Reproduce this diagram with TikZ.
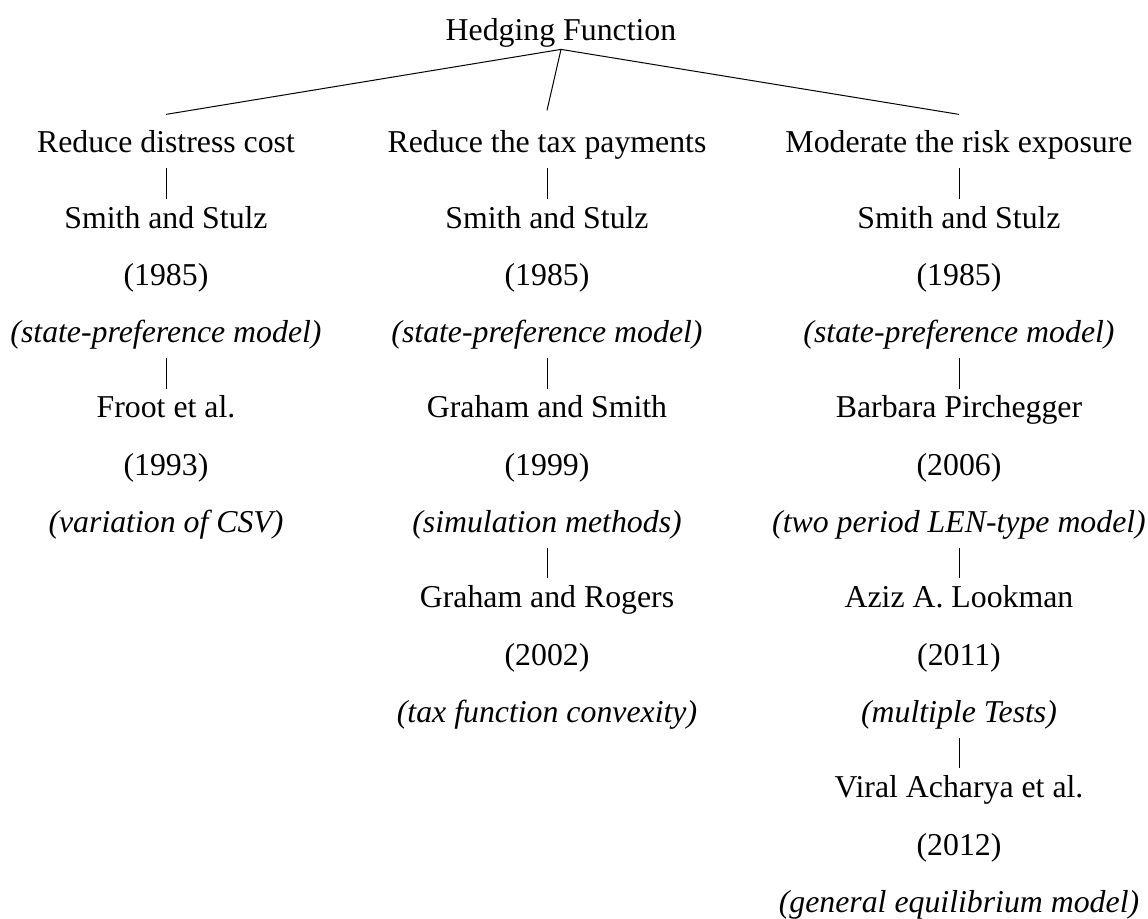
\documentclass[tikz,border=0pt]{standalone}
\usepackage{fontspec}
\setmainfont{Liberation Serif}
\usetikzlibrary{positioning}
\begin{document}
\begin{tikzpicture}

  % Definitions
  \tikzstyle{entry} = [inner sep=0pt, text height=12pt, text depth=4pt, text centered, font=\fontsize{15.9}{19}\selectfont]
  \tikzstyle{model} = [entry, font=\fontsize{15.9}{19}\selectfont\itshape]
  \tikzstyle{branch} = [line width=0.5pt]
  \tikzstyle{link} = [line width=0.5pt, shorten <=3.5pt, shorten >=2.5pt]

  \useasboundingbox (0,0) rectangle (574pt,-459.5pt);

  \node (root) [entry] at (280.5pt,-16.5pt) {Hedging Function};
  \coordinate (apex) at (root.south);

  % left branch
  \node (dc) [entry, below=39.5pt of root, xshift=-197.5pt] {Reduce distress cost};
  \node (dcA) [entry, below=21.25pt of dc] {Smith and Stulz};
  \node (dcAy) [entry, below=12.25pt of dcA] {(1985)};
  \node (dcAm) [model, below=12.25pt of dcAy] {(state-preference model)};
  \node (dcB) [entry, below=21.25pt of dcAm] {Froot et al.};
  \node (dcBy) [entry, below=12.25pt of dcB] {(1993)};
  \node (dcBm) [model, below=12.25pt of dcBy] {(variation of CSV)};

  % middle branch
  \node (tx) [entry, below=39.5pt of root, xshift=-7pt] {Reduce the tax payments};
  \node (txA) [entry, below=21.25pt of tx] {Smith and Stulz};
  \node (txAy) [entry, below=12.25pt of txA] {(1985)};
  \node (txAm) [model, below=12.25pt of txAy] {(state-preference model)};
  \node (txB) [entry, below=21.25pt of txAm] {Graham and Smith};
  \node (txBy) [entry, below=12.25pt of txB] {(1999)};
  \node (txBm) [model, below=12.25pt of txBy] {(simulation methods)};
  \node (txC) [entry, below=21.25pt of txBm] {Graham and Rogers};
  \node (txCy) [entry, below=12.25pt of txC] {(2002)};
  \node (txCm) [model, below=12.25pt of txCy] {(tax function convexity)};

  % right branch
  \node (rk) [entry, below=39.5pt of root, xshift=199pt] {Moderate the risk exposure};
  \node (rkA) [entry, below=21.25pt of rk] {Smith and Stulz};
  \node (rkAy) [entry, below=12.25pt of rkA] {(1985)};
  \node (rkAm) [model, below=12.25pt of rkAy] {(state-preference model)};
  \node (rkB) [entry, below=21.25pt of rkAm] {Barbara Pirchegger};
  \node (rkBy) [entry, below=12.25pt of rkB] {(2006)};
  \node (rkBm) [model, below=12.25pt of rkBy] {(two period LEN-type model)};
  \node (rkC) [entry, below=21.25pt of rkBm] {Aziz A. Lookman};
  \node (rkCy) [entry, below=12.25pt of rkC] {(2011)};
  \node (rkCm) [model, below=12.25pt of rkCy] {(multiple Tests)};
  \node (rkD) [entry, below=21.25pt of rkCm] {Viral Acharya et al.};
  \node (rkDy) [entry, below=12.25pt of rkD] {(2012)};
  \node (rkDm) [model, below=12.25pt of rkDy] {(general equilibrium model)};

  \draw [branch] (apex) -- ([yshift=7pt]dc.north);
  \draw [branch] (apex) -- ([yshift=9pt]tx.north);
  \draw [branch] (apex) -- ([yshift=7pt]rk.north);

  \draw [link] (dc) -- (dcA);
  \draw [link] (dcAm) -- (dcB);
  \draw [link] (tx) -- (txA);
  \draw [link] (txAm) -- (txB);
  \draw [link] (txBm) -- (txC);
  \draw [link] (rk) -- (rkA);
  \draw [link] (rkAm) -- (rkB);
  \draw [link] (rkBm) -- (rkC);
  \draw [link] (rkCm) -- (rkD);

\end{tikzpicture}
\end{document}
